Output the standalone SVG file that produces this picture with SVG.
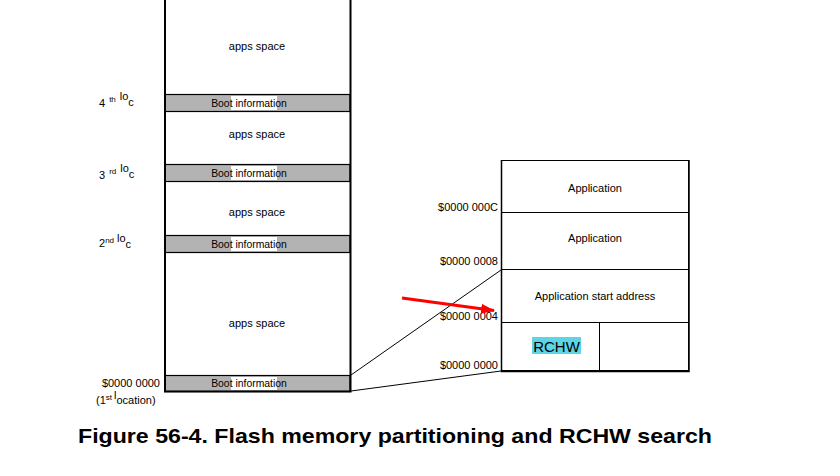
<svg xmlns="http://www.w3.org/2000/svg" width="840" height="476" viewBox="0 0 840 476">
<defs>
<style>
.t{font-family:"Liberation Sans",Arial,sans-serif;font-size:11px;fill:#000}
.b{font-size:10.4px}
.c{text-anchor:middle}
.r{text-anchor:end}
.boot{fill:#b3b3b3;stroke:#000;stroke-width:1.2}
.cell{fill:#fff;stroke:#000;stroke-width:1}
.ln{stroke:#000;stroke-width:1;fill:none}
</style>
<marker id="ah" markerWidth="14" markerHeight="10" refX="13" refY="5" orient="auto" markerUnits="userSpaceOnUse">
<path d="M0,0 L14,5 L0,10 Z" fill="#f00"/>
</marker>
</defs>
<rect width="840" height="476" fill="#fff"/>

<g id="flash-column">
<rect x="165" y="-2" width="185" height="393" fill="#fff" stroke="none"/>
<g id="apps4"><text class="t c" x="257" y="50">apps space</text></g>
<g id="boot4"><rect class="boot" x="165" y="94.5" width="185" height="17"/><rect x="231" y="96" width="46" height="14" fill="#fff"/><text class="t b c" x="249" y="107">Boot information</text></g>
<g id="apps3"><text class="t c" x="257" y="138">apps space</text></g>
<g id="boot3"><rect class="boot" x="165" y="164.5" width="185" height="17"/><rect x="231" y="166" width="46" height="14" fill="#fff"/><text class="t b c" x="249" y="177">Boot information</text></g>
<g id="apps2"><text class="t c" x="257" y="216">apps space</text></g>
<g id="boot2"><rect class="boot" x="165" y="235.5" width="185" height="17"/><rect x="231" y="237" width="46" height="14" fill="#fff"/><text class="t b c" x="249" y="248">Boot information</text></g>
<g id="apps1"><text class="t c" x="257" y="327">apps space</text></g>
<g id="boot1"><rect class="boot" x="165" y="375.5" width="185" height="16"/><rect x="231" y="377" width="46" height="13" fill="#fff"/><text class="t b c" x="249" y="387">Boot information</text></g>
<path d="M165,0 V391.5 H350.5 V0" fill="none" stroke="#000" stroke-width="2"/>
</g>

<g id="loc-labels">
<text class="t" x="99" y="107">4<tspan font-size="8" dx="4" dy="-5">th</tspan><tspan dx="4" dy="-2">lo</tspan><tspan dy="6">c</tspan></text>
<text class="t" x="99" y="179">3<tspan font-size="8" dx="4" dy="-5">rd</tspan><tspan dx="4" dy="-2">lo</tspan><tspan dy="6">c</tspan></text>
<text class="t" x="99" y="247">2<tspan font-size="8" dy="-4">nd</tspan><tspan dx="3" dy="-1">lo</tspan><tspan dy="6">c</tspan></text>
<text class="t r" x="160" y="387">$0000 0000</text>
<text class="t" x="96" y="404">(1<tspan font-size="8" dy="-4">st</tspan><tspan dx="2" dy="-1">l</tspan><tspan dy="5">ocation)</tspan></text>
</g>

<g id="rchw-box">
<g id="cell-app2"><rect class="cell" x="501.5" y="160.5" width="187" height="52"/><text class="t c" x="595" y="192">Application</text></g>
<g id="cell-app1"><rect class="cell" x="501.5" y="212.5" width="187" height="57"/><text class="t c" x="595" y="242">Application</text></g>
<g id="cell-start"><rect class="cell" x="501.5" y="269.5" width="187" height="53"/><text class="t c" x="595" y="300">Application start address</text></g>
<g id="cell-rchw"><rect class="cell" x="501.5" y="322.5" width="98" height="48"/><rect x="532" y="337" width="49" height="17" fill="#5dd5e6"/><text class="t c" x="556.5" y="351.5" style="font-size:15px">RCHW</text></g>
<g id="cell-blank"><rect class="cell" x="599.5" y="322.5" width="89" height="48"/></g>
<path d="M501.5,160 V371.5 H689 V160" fill="none" stroke="#000" stroke-width="1.5"/>
<text class="t r" x="498" y="211">$0000 000C</text>
<text class="t r" x="498" y="265">$0000 0008</text>
<text class="t r" x="498" y="320">$0000 0004</text>
<text class="t r" x="498" y="369">$0000 0000</text>
</g>

<g id="connectors">
<line class="ln" x1="351" y1="375" x2="501" y2="270"/>
<line class="ln" x1="351" y1="391" x2="501" y2="371"/>
<line x1="402" y1="298" x2="494" y2="310.5" stroke="#f00" stroke-width="3" marker-end="url(#ah)"/>
</g>

<text x="78" y="443" font-family="'Liberation Sans',Arial,sans-serif" font-size="21" font-weight="bold" textLength="634" lengthAdjust="spacingAndGlyphs">Figure 56-4. Flash memory partitioning and RCHW search</text>
</svg>
